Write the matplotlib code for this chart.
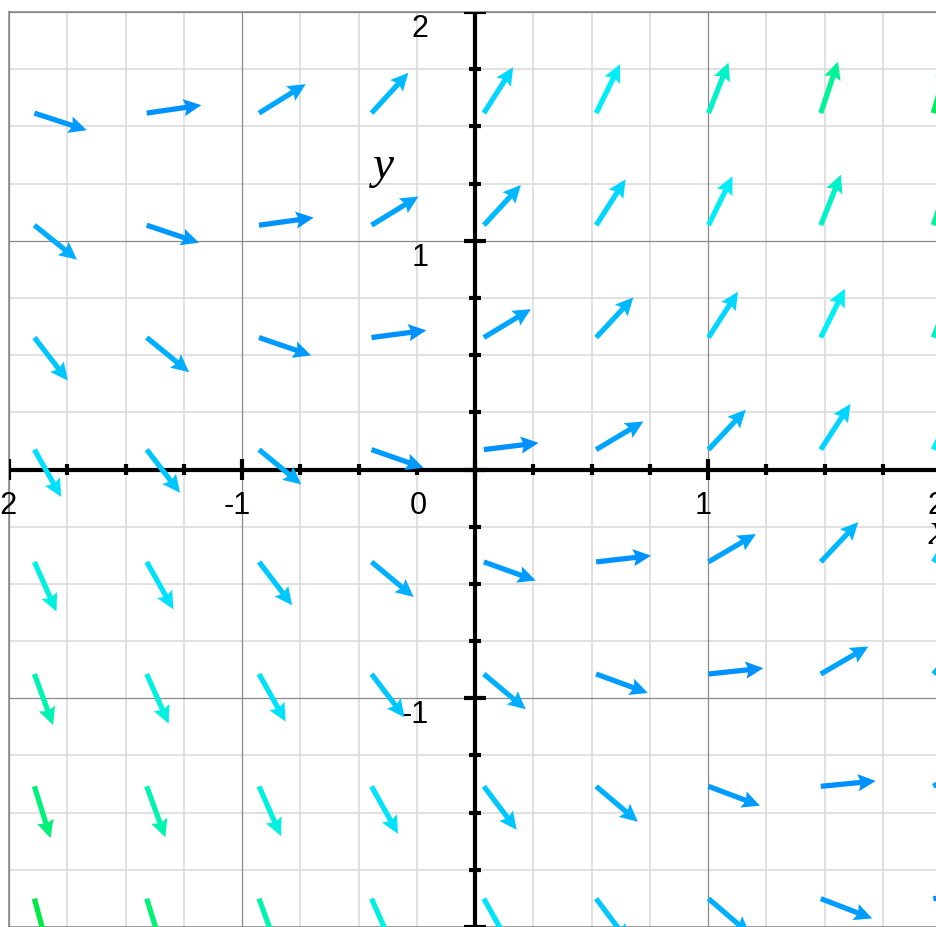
import numpy as np
import matplotlib
matplotlib.use('Agg')
import matplotlib.pyplot as plt
from matplotlib.colors import LinearSegmentedColormap

# slope field for dy/dx = x + y
def slope(x, y):
    return x + y

# arrow tail positions
x_tails = [-1.891, -1.409, -0.927, -0.444, 0.038, 0.520, 1.002, 1.484, 1.967]
y_tails = [1.558, 1.068, 0.577, 0.087, -0.404, -0.894, -1.385, -1.876]

# tick label values
x_labels = [-2, -1, 1, 2]
y_labels = [2, 1, -1, -2]

# colour by steepness of the slope
s_anchor = [0.0, 1.1, 1.6, 2.1, 3.0, 3.5, 4.0]
c_anchor = ['#008cff', '#00b9ff', '#00d7ff', '#00f0f5', '#00f59b', '#00ee5a', '#00e632']
cmap = LinearSegmentedColormap.from_list(
    'field', list(zip(np.array(s_anchor) / 4.0, c_anchor)))

fig = plt.figure(figsize=(9.37, 9.28), dpi=100)
ax = fig.add_axes([9 / 937, 0.0, 932 / 937, 915 / 928])
ax.set_xlim(-2, 2)
ax.set_ylim(-2, 2)

# grid
for v in np.arange(-2, 2.01, 0.25):
    major = abs(v - round(v)) < 1e-9
    col = '#8a8a8a' if major else '#dcdcdc'
    lw = 0.9 if major else 1.2
    ax.axvline(v, color=col, lw=lw, zorder=1 if major else 0)
    ax.axhline(v, color=col, lw=lw, zorder=1 if major else 0)

for s in ax.spines.values():
    s.set_color('#8a8a8a')
    s.set_linewidth(1.2)
ax.set_xticks([])
ax.set_yticks([])

# main axes lines
ax.axhline(0, color='black', lw=3, zorder=3)
ax.axvline(0, color='black', lw=3, zorder=3)

# tick marks on both axes
for v in np.arange(-2, 2.01, 0.25):
    major = abs(v - round(v)) < 1e-9
    h = 0.047 if major else 0.026
    ax.plot([v, v], [-h, h], color='black', lw=3, solid_capstyle='butt', zorder=3)
    ax.plot([-h, h], [v, v], color='black', lw=3, solid_capstyle='butt', zorder=3)

# labels
lab_font = dict(family='Liberation Sans', fontsize=22, color='black')
for v in x_labels:
    ax.text(v - 0.02, -0.09, str(v), ha='center', va='top', zorder=4, **lab_font)
ax.text(-0.245, -0.09, '0', ha='center', va='top', zorder=4, **lab_font)
for v in y_labels:
    ax.text(-0.2, v - 0.005, str(v), ha='right', va='top', zorder=4, **lab_font)

ax.text(-0.395, 1.33, 'y', family='Liberation Serif', style='italic',
        fontsize=34, ha='center', va='center', zorder=4)
ax.text(1.99, -0.27, 'x', family='Liberation Serif', style='italic',
        fontsize=34, ha='center', va='center', zorder=4)

# arrows
X, Y = np.meshgrid(x_tails, y_tails)
S = slope(X, Y)
L = 0.237
ang = np.arctan(S)
U = L * np.cos(ang)
V = L * np.sin(ang)
ax.quiver(X, Y, U, V, np.clip(np.abs(S), 0, 4), cmap=cmap, clim=(0, 4),
          angles='xy', scale_units='xy', scale=1, pivot='tail',
          width=0.0056, headwidth=3.3, headlength=3.4, headaxislength=3.0,
          zorder=5)

fig.savefig('out.png', dpi=100)
